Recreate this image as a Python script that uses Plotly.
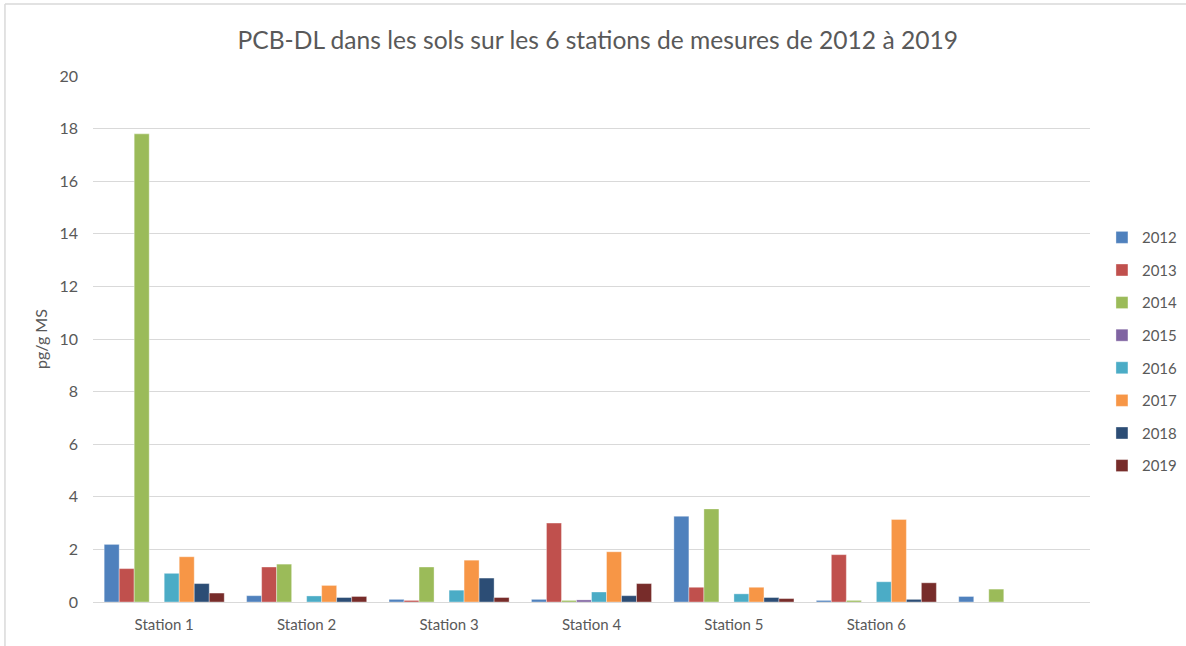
import plotly.graph_objects as go

stations = ["Station 1", "Station 2", "Station 3", "Station 4", "Station 5", "Station 6", " "]
annees = ["2012", "2013", "2014", "2015", "2016", "2017", "2018", "2019"]

v2012 = [2.19, 0.24, 0.10, 0.10, 3.26, 0.06, 0.21]
v2013 = [1.27, 1.33, 0.06, 3.00, 0.56, 1.80, None]
v2014 = [17.8, 1.44, 1.33, 0.06, 3.54, 0.06, 0.49]
v2015 = [None, None, None, 0.08, None, None, None]
v2016 = [1.09, 0.23, 0.45, 0.38, 0.31, 0.77, None]
v2017 = [1.72, 0.63, 1.59, 1.91, 0.56, 3.14, None]
v2018 = [0.70, 0.17, 0.91, 0.24, 0.17, 0.10, None]
v2019 = [0.34, 0.21, 0.17, 0.70, 0.13, 0.73, None]

valeurs = [v2012, v2013, v2014, v2015, v2016, v2017, v2018, v2019]
couleurs = ["#4f81bd", "#c0504d", "#9bbb59", "#8064a2",
            "#4bacc6", "#f79646", "#2c4d75", "#772c2a"]

fig = go.Figure()
for annee, vals, c in zip(annees, valeurs, couleurs):
    fig.add_trace(go.Bar(
        x=stations, y=vals, name=annee, legendgroup=annee,
        marker=dict(color=c, line=dict(color="rgba(255,255,255,0.6)", width=0.6)),
    ))

gris = "#595959"
fig.update_layout(
    width=1186, height=646,
    paper_bgcolor="white", plot_bgcolor="white",
    font=dict(family="Lato, Open Sans, sans-serif", color=gris, size=15),
    title=dict(text="PCB-DL dans les sols sur les 6 stations de mesures de 2012 à 2019",
               x=0.504, xanchor="center", y=0.938, yanchor="middle",
               font=dict(size=24.6, color=gris)),
    barmode="group", bargap=0.157, bargroupgap=0,
    margin=dict(l=93, r=96, t=76, b=44, autoexpand=False),
    showlegend=True,
    legend=dict(x=1.012, y=0.476, xanchor="left", yanchor="middle",
                traceorder="grouped", tracegroupgap=10.1,
                font=dict(size=15, color=gris)),
    xaxis=dict(showgrid=False, showline=False, ticks="", automargin=False,
               ticklabelstandoff=12,
               tickfont=dict(size=15, color=gris)),
    yaxis=dict(range=[0, 20], dtick=2, showgrid=True, gridcolor="#d9d9d9",
               gridwidth=1, zeroline=True, zerolinecolor="#d9d9d9", zerolinewidth=1,
               showline=False, ticks="", ticklabelstandoff=14, automargin=False,
               tickfont=dict(size=16, color=gris),
               title=dict(text="pg/g MS", font=dict(size=16, color=gris), standoff=7)),
    shapes=[
        dict(type="line", xref="paper", yref="paper", x0=-0.0883, x1=1.15,
             y0=1.137, y1=1.137, line=dict(color="#d9d9d9", width=1.5)),
        dict(type="line", xref="paper", yref="paper", x0=-0.0883, x1=-0.0883,
             y0=1.137, y1=-0.09, line=dict(color="#d9d9d9", width=1.5)),
    ],
)

fig.write_html("out.html", config={"displayModeBar": False},
               post_script="document.body.style.margin='0';")
